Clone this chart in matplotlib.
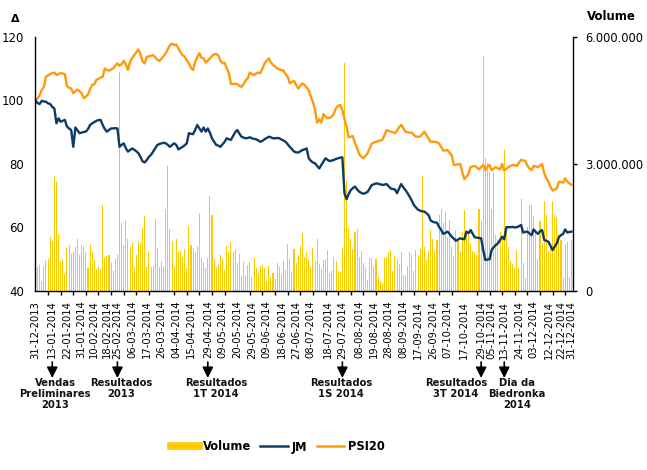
import matplotlib
matplotlib.use('Agg')
import matplotlib.pyplot as plt
import matplotlib.transforms as mtransforms
from matplotlib.lines import Line2D
from matplotlib.ticker import FuncFormatter
import numpy as np
import pandas as pd

# trading days (Euronext Lisbon, 2014)
holidays = ['2014-01-01', '2014-04-18', '2014-04-21', '2014-05-01', '2014-12-25', '2014-12-26']
dates = pd.bdate_range('2013-12-31', '2014-12-31')
dates = dates[~dates.isin(pd.to_datetime(holidays))]

# PSI20 rebased to 100
psi20 = [
    100.0, 100.6, 101.7, 103.3, 104.2, 107.5, 107.9, 108.3, 108.6, 108.8,
    108.0, 108.4, 108.6, 108.5, 108.3, 104.6, 104.0, 103.8, 102.3, 102.9,
    103.5, 102.9, 102.3, 100.7, 101.2, 101.9, 103.6, 104.9, 105.1, 106.5,
    106.8, 107.2, 107.5, 110.1, 109.6, 109.4, 109.8, 110.1, 111.0, 111.7,
    110.9, 111.5, 112.5, 111.4, 109.6, 112.2, 113.4, 114.3, 115.2, 116.1,
    114.5, 112.3, 111.7, 113.8, 113.9, 114.1, 114.3, 113.6, 112.8, 112.5,
    113.2, 114.0, 114.9, 116.2, 117.5, 117.9, 117.5, 117.6, 116.4, 115.2,
    114.3, 113.8, 112.6, 111.7, 110.2, 109.6, 112.2, 113.6, 114.9, 113.5,
    113.3, 111.9, 112.6, 113.3, 114.0, 114.6, 114.6, 114.2, 112.5, 111.7,
    111.9, 110.2, 108.6, 105.2, 105.2, 105.3, 105.2, 104.6, 104.3, 105.2,
    106.3, 107.0, 108.8, 108.3, 108.0, 108.5, 108.8, 108.6, 110.1, 111.7,
    112.5, 113.3, 112.0, 111.2, 110.7, 110.1, 109.8, 109.6, 109.4, 108.3,
    107.5, 105.4, 105.8, 106.2, 104.9, 103.8, 104.6, 105.4, 104.9, 104.1,
    103.3, 101.2, 99.6, 97.0, 93.0, 94.1, 93.0, 95.7, 95.0, 94.4,
    94.6, 94.9, 96.0, 97.6, 98.3, 98.6, 97.0, 94.2, 91.7, 88.4,
    88.6, 88.8, 86.5, 85.0, 83.1, 82.3, 81.8, 82.6, 83.4, 84.9,
    86.5, 86.7, 87.0, 87.2, 87.4, 87.6, 89.0, 90.7, 90.4, 90.2,
    90.0, 89.7, 90.5, 91.6, 92.3, 91.3, 90.2, 90.0, 89.9, 89.9,
    89.2, 88.6, 88.6, 88.6, 89.4, 90.2, 89.1, 88.0, 87.0, 87.0,
    87.0, 86.8, 86.5, 85.4, 84.2, 84.3, 84.4, 83.5, 82.8, 79.7,
    79.8, 79.9, 80.0, 77.6, 75.2, 76.0, 76.9, 79.1, 79.2, 79.4,
    78.9, 78.3, 79.0, 79.7, 78.1, 79.2, 79.7, 78.1, 78.6, 79.0,
    78.6, 78.3, 80.0, 77.9, 78.5, 79.0, 79.4, 79.7, 79.6, 79.4,
    80.4, 81.3, 81.1, 81.0, 79.5, 78.6, 78.1, 79.4, 79.2, 79.0,
    79.5, 80.0, 77.1, 75.6, 74.4, 72.8, 71.6, 72.0, 72.3, 74.4,
    74.3, 74.1, 75.5, 74.4, 73.9, 73.4,
]

# Jeronimo Martins rebased to 100
jm = [
    100.0, 99.2, 98.9, 99.9, 99.7, 99.6, 99.1, 98.9, 98.0, 97.5,
    92.8, 94.4, 93.3, 93.6, 93.9, 91.8, 91.2, 90.7, 85.4, 91.5,
    90.6, 89.7, 89.9, 90.1, 90.2, 91.0, 92.3, 92.8, 93.2, 93.6,
    93.8, 93.9, 92.3, 91.0, 90.2, 90.7, 91.2, 91.2, 91.3, 91.2,
    85.4, 86.0, 86.5, 85.0, 83.9, 84.4, 84.9, 84.5, 84.0, 83.4,
    82.2, 80.8, 80.5, 81.3, 82.3, 82.9, 83.9, 85.0, 86.0, 86.3,
    86.5, 86.7, 86.5, 86.0, 85.4, 86.0, 86.5, 86.0, 84.6, 85.0,
    85.4, 85.9, 86.5, 89.7, 89.5, 89.4, 90.8, 92.3, 91.2, 90.2,
    91.5, 90.2, 91.2, 89.8, 88.1, 87.0, 86.0, 85.8, 85.4, 86.2,
    87.0, 88.1, 87.8, 87.6, 88.8, 90.0, 90.7, 89.6, 88.6, 88.3,
    88.1, 88.2, 88.4, 88.1, 87.9, 87.8, 87.4, 87.0, 87.3, 87.8,
    88.2, 88.6, 88.4, 88.1, 88.1, 88.2, 88.1, 87.7, 87.4, 87.0,
    86.2, 85.4, 84.7, 83.9, 83.7, 83.6, 84.0, 84.4, 84.6, 84.9,
    81.8, 81.0, 80.5, 80.2, 79.4, 78.6, 79.7, 80.8, 81.8, 81.3,
    80.9, 81.1, 81.3, 81.6, 81.8, 82.0, 82.1, 70.8, 68.9, 70.5,
    71.8, 72.4, 72.9, 72.0, 71.3, 70.9, 70.6, 70.9, 71.2, 72.3,
    73.4, 73.6, 73.9, 73.8, 73.6, 73.4, 73.5, 73.7, 73.0, 72.3,
    72.1, 72.0, 70.8, 72.3, 73.7, 72.6, 71.8, 70.8, 69.7, 68.5,
    67.1, 66.3, 65.6, 65.3, 65.1, 65.0, 64.5, 63.9, 62.2, 61.8,
    61.6, 61.5, 60.2, 59.2, 58.0, 58.3, 58.7, 58.0, 57.1, 56.5,
    55.8, 56.2, 56.6, 56.4, 56.3, 58.7, 58.2, 59.2, 58.0, 56.9,
    56.8, 56.7, 56.6, 52.9, 49.8, 49.9, 50.0, 52.9, 53.8, 54.5,
    55.0, 56.0, 57.1, 56.3, 60.1, 60.1, 60.1, 60.2, 60.0, 60.1,
    60.4, 60.8, 58.4, 58.6, 58.7, 58.1, 57.6, 59.4, 58.6, 58.0,
    58.8, 59.2, 56.1, 55.8, 55.5, 54.2, 52.9, 54.0, 55.0, 57.0,
    57.6, 58.0, 59.4, 58.4, 58.6, 58.7,
]

# JM daily volume (millions of shares)
volume_m = [
    0.20, 0.57, 0.61, 0.24, 0.59, 0.73, 0.75, 1.28, 1.17, 2.72,
    2.58, 1.35, 0.69, 0.75, 0.40, 1.01, 1.09, 0.87, 0.91, 1.05,
    1.23, 0.85, 1.09, 1.03, 0.91, 0.55, 1.11, 0.91, 0.73, 0.52,
    0.57, 0.52, 2.03, 0.79, 0.83, 0.85, 0.67, 0.48, 0.75, 0.87,
    5.18, 1.61, 1.09, 1.68, 1.23, 1.03, 1.14, 0.57, 0.85, 1.17,
    1.13, 1.49, 1.76, 0.57, 0.91, 0.57, 0.59, 1.70, 1.02, 0.56,
    0.69, 0.57, 1.94, 2.95, 1.46, 1.17, 0.56, 1.24, 0.91, 0.94,
    0.81, 0.99, 0.55, 1.54, 1.09, 1.02, 0.91, 1.06, 1.85, 0.77,
    0.67, 0.55, 0.78, 2.25, 1.80, 0.76, 0.57, 0.62, 0.85, 0.76,
    0.50, 1.06, 0.93, 1.16, 0.91, 0.99, 0.67, 0.87, 0.36, 0.69,
    0.38, 0.61, 0.69, 0.33, 0.77, 0.55, 0.43, 0.59, 0.61, 0.55,
    0.24, 0.59, 0.32, 0.43, 0.28, 0.67, 0.57, 0.39, 0.71, 0.50,
    1.11, 0.76, 0.46, 0.99, 0.67, 0.85, 1.06, 1.38, 0.80, 0.91,
    0.73, 0.56, 1.01, 0.72, 1.23, 0.64, 0.52, 0.73, 0.76, 0.97,
    0.43, 0.48, 0.81, 0.72, 0.48, 0.46, 1.02, 5.38, 2.62, 1.48,
    1.23, 0.99, 1.40, 1.46, 0.81, 0.95, 0.65, 0.56, 0.26, 0.77,
    0.79, 0.57, 0.76, 0.34, 0.24, 0.18, 0.77, 0.77, 0.93, 0.97,
    0.48, 0.83, 0.75, 0.64, 0.91, 0.38, 0.35, 0.59, 0.93, 0.85,
    0.48, 0.98, 0.85, 0.99, 2.72, 1.05, 0.73, 0.95, 1.44, 1.23,
    0.95, 1.20, 1.80, 1.94, 1.60, 1.87, 1.28, 1.68, 1.05, 0.83,
    1.44, 1.20, 0.91, 1.40, 1.91, 1.35, 1.32, 1.13, 0.95, 0.93,
    0.85, 1.94, 1.66, 5.55, 3.13, 3.03, 2.82, 1.94, 2.78, 1.32,
    1.24, 1.40, 1.28, 3.33, 1.40, 1.05, 0.72, 0.64, 0.55, 0.97,
    0.55, 2.17, 0.65, 0.30, 1.52, 2.04, 2.04, 1.76, 1.40, 0.75,
    1.66, 1.13, 2.13, 1.80, 0.94, 1.13, 2.13, 1.80, 1.74, 1.35,
    1.20, 0.30, 1.10, 1.15, 0.34, 1.20,
]

tick_dates = [
    '31-12-2013', '13-01-2014', '22-01-2014', '31-01-2014', '10-02-2014', '18-02-2014',
    '25-02-2014', '06-03-2014', '17-03-2014', '26-03-2014', '04-04-2014', '15-04-2014',
    '29-04-2014', '09-05-2014', '20-05-2014', '29-05-2014', '09-06-2014', '18-06-2014',
    '27-06-2014', '08-07-2014', '18-07-2014', '29-07-2014', '08-08-2014', '19-08-2014',
    '28-08-2014', '08-09-2014', '17-09-2014', '26-09-2014', '07-10-2014', '17-10-2014',
    '29-10-2014', '05-11-2014', '13-11-2014', '24-11-2014', '03-12-2014', '12-12-2014',
    '22-12-2014', '31-12-2014',
]

# event date, label, horizontal text shift (points)
events = [
    ('13-01-2014', 'Vendas\nPreliminares\n2013', 2),
    ('25-02-2014', 'Resultados\n2013', 3),
    ('29-04-2014', 'Resultados\n1T 2014', 6),
    ('29-07-2014', 'Resultados\n1S 2014', -1),
    ('29-10-2014', 'Resultados\n3T 2014', -18),
    ('13-11-2014', 'Dia da\nBiedronka\n2014', 9),
]

C_VOL = '#FFC800'
C_JM = '#0D3B66'
C_PSI = '#FF9A0A'

plt.rcParams['font.family'] = 'DejaVu Sans'

x = np.arange(len(dates))
date_idx = {d.strftime('%d-%m-%Y'): i for i, d in enumerate(dates)}

fig = plt.figure(figsize=(6.47, 4.70), dpi=100)
ax = fig.add_axes([35 / 647, 1 - 291 / 470, 538 / 647, 254 / 470])
ax2 = ax.twinx()

ax2.bar(x, volume_m, width=0.5, color=C_VOL, linewidth=0)
ax.plot(x, psi20, color=C_PSI, lw=1.7)
ax.plot(x, jm, color=C_JM, lw=1.7)

ax.set_zorder(ax2.get_zorder() + 1)
ax.patch.set_visible(False)

ax.set_xlim(-0.2, len(x) - 0.3)
ax.set_ylim(40, 120)
ax2.set_ylim(0, 6)

ax.set_yticks([40, 60, 80, 100, 120])
ax.tick_params(axis='y', length=0, pad=8, labelsize=8.5, colors='black')
ax2.set_yticks([0, 3, 6])
ax2.yaxis.set_major_formatter(FuncFormatter(lambda v, p: f"{int(round(v * 1e6)):,}".replace(',', '.')))
ax2.tick_params(axis='y', direction='out', length=3, width=1, pad=6, labelsize=8.3, colors='black')

ax.set_xticks([date_idx[d] for d in tick_dates])
ax.set_xticklabels(tick_dates, rotation=90, fontsize=7.2)
ax.set_xticks(np.arange(0, len(x), 6), minor=True)
ax.tick_params(axis='x', which='major', length=0, pad=7)
ax.tick_params(axis='x', which='minor', length=3, width=1, direction='out', color='black')

for s in ['top', 'right']:
    ax.spines[s].set_visible(False)
for s in ['top', 'left', 'bottom']:
    ax2.spines[s].set_visible(False)
for s in ['left', 'bottom']:
    ax.spines[s].set_linewidth(1.0)
ax2.spines['right'].set_linewidth(1.0)

# event markers below the axis
trans = mtransforms.blended_transform_factory(ax.transData, fig.transFigure)
for d, label, dx in events:
    i = date_idx[d]
    ax.annotate('', xy=(i, 1 - 378 / 470), xytext=(i, 1 - 362 / 470),
                xycoords=trans, textcoords=trans, annotation_clip=False,
                arrowprops=dict(arrowstyle='-|>,head_length=0.8,head_width=0.4',
                                mutation_scale=8, color='black', lw=1.2,
                                shrinkA=0, shrinkB=0))
    tt = mtransforms.offset_copy(trans, fig=fig, x=dx, y=0, units='points')
    ax.text(i, 1 - 378 / 470, label, transform=tt, ha='center', va='top',
            fontsize=7.2, fontweight='bold', linespacing=1.15, color='#111111')

fig.text(611 / 647, 1 - 17 / 470, 'Volume', ha='center', va='center',
         fontsize=8.5, fontweight='bold')
fig.text(15 / 647, 1 - 19 / 470, 'Δ', ha='center', va='center',
         fontsize=8, fontweight='bold')

handles = [Line2D([], [], color=C_VOL, lw=5.5),
           Line2D([], [], color=C_JM, lw=1.8),
           Line2D([], [], color=C_PSI, lw=1.8)]
fig.legend(handles, ['Volume', 'JM', 'PSI20'], loc='center',
           bbox_to_anchor=(278 / 647, 1 - 447 / 470), ncol=3, frameon=False,
           prop={'weight': 'bold', 'size': 8.3}, handlelength=2.4,
           handletextpad=0.35, columnspacing=0.8)

fig.savefig('out.png', dpi=100)
